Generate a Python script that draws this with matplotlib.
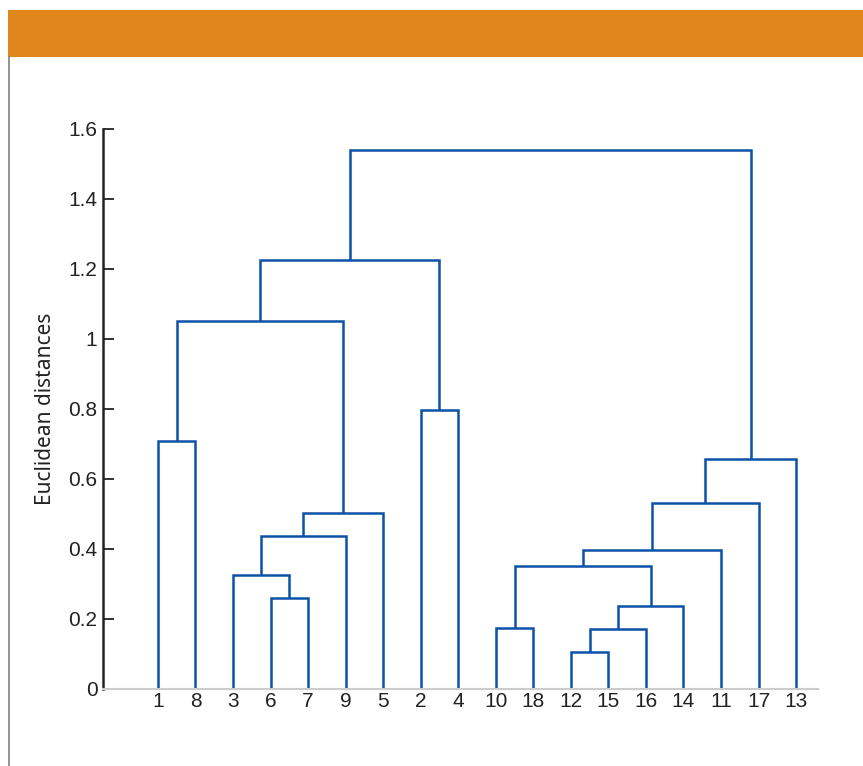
import matplotlib
matplotlib.use("Agg")
import matplotlib.pyplot as plt
from matplotlib.patches import Rectangle
from matplotlib.lines import Line2D

# ---- data ----
leaf_order = ["1", "8", "3", "6", "7", "9", "5", "2", "4",
              "10", "18", "12", "15", "16", "14", "11", "17", "13"]
# merges: (left child, right child, height); children are leaf labels or merge names
merge_names = ["A", "B", "C", "D", "E", "F", "G", "H",
               "I", "J", "K", "L", "M", "N", "O", "P", "Q"]
merge_left = ["1", "6", "3", "C", "D", "A", "2", "F",
              "10", "12", "J", "K", "I", "M", "N", "O", "H"]
merge_right = ["8", "7", "B", "9", "5", "E", "4", "G",
               "18", "15", "16", "14", "L", "11", "17", "13", "P"]
merge_height = [0.709, 0.260, 0.326, 0.437, 0.503, 1.051, 0.797, 1.226,
                0.174, 0.106, 0.171, 0.237, 0.351, 0.397, 0.531, 0.657, 1.540]
yticks = [0, 0.2, 0.4, 0.6, 0.8, 1.0, 1.2, 1.4, 1.6]
ytick_labels = ["0", "0.2", "0.4", "0.6", "0.8", "1", "1.2", "1.4", "1.6"]

W, H = 863, 766
fig = plt.figure(figsize=(W / 100, H / 100), dpi=100)

# header bar and left rule
fig.add_artist(Rectangle((8 / W, 1 - 57 / H), 1 - 8 / W, 47 / H,
                         transform=fig.transFigure, facecolor="#DF871A",
                         edgecolor="none"))
fig.add_artist(Line2D([8.5 / W, 8.5 / W], [0, 1 - 57 / H],
                      transform=fig.transFigure, color="#808080", lw=1.2))

ax = fig.add_axes([103 / W, 1 - 689 / H, (818 - 103) / W, (689 - 129) / H])

xpos = {lab: i + 1 for i, lab in enumerate(leaf_order)}
ypos = {lab: 0.0 for lab in leaf_order}
blue = "#0B52A8"
for name, l, r, h in zip(merge_names, merge_left, merge_right, merge_height):
    xl, xr = xpos[l], xpos[r]
    ax.plot([xl, xl, xr, xr], [ypos[l], h, h, ypos[r]], color=blue, lw=1.8,
            solid_joinstyle="miter", solid_capstyle="butt")
    xpos[name] = (xl + xr) / 2
    ypos[name] = h

ax.set_xlim(-0.463, 18.585)
ax.set_ylim(0, 1.6)
ax.set_xticks(range(1, len(leaf_order) + 1))
ax.set_xticklabels(leaf_order, fontsize=15, family="Liberation Sans", color="#222222")
ax.set_yticks(yticks)
ax.set_yticklabels(ytick_labels, fontsize=15, family="Liberation Sans", color="#222222")
ax.tick_params(axis="x", length=0, pad=2)
ax.tick_params(axis="y", direction="in", length=8, width=1.3, color="#222222", pad=4)
for s in ("top", "right"):
    ax.spines[s].set_visible(False)
ax.spines["left"].set_color("#222222")
ax.spines["left"].set_linewidth(1.8)
ax.spines["bottom"].set_color("#cccccc")
ax.spines["bottom"].set_linewidth(1.5)
ax.set_ylabel("Euclidean distances", fontsize=15, family="Noto Sans",
              color="#222222")
ax.yaxis.set_label_coords(-0.066, 0.5)

fig.savefig("out.png", dpi=100)
